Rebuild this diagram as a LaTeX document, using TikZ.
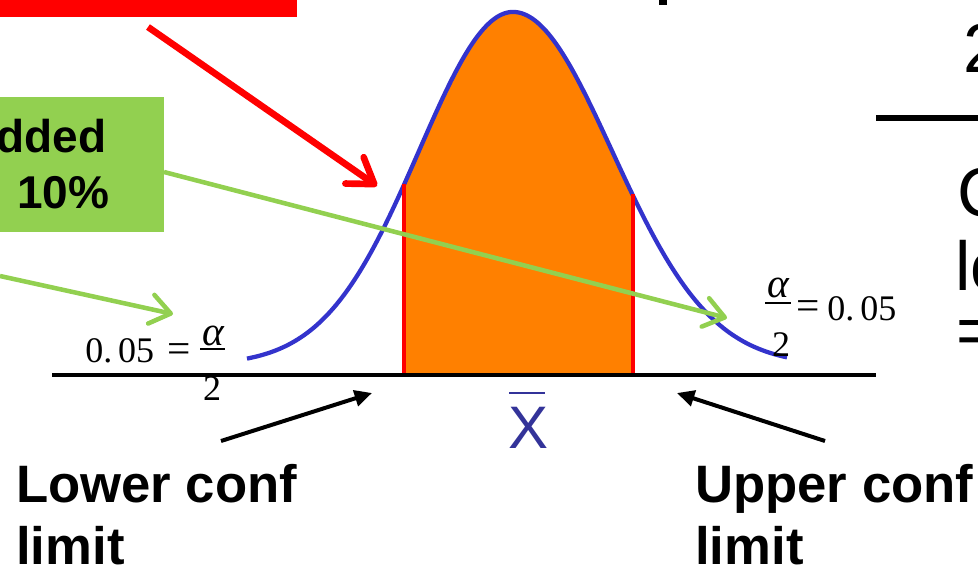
\documentclass[tikz,border=0pt]{standalone}
\usepackage{fontspec}
\setmainfont{Liberation Sans}
\newfontfamily\seriffam{Liberation Serif}
\usetikzlibrary{arrows.meta}
\definecolor{curveblue}{RGB}{51,51,204}
\definecolor{fillorange}{RGB}{255,128,0}
\definecolor{boxgreen}{RGB}{146,208,80}
\definecolor{xblue}{RGB}{51,51,153}
\begin{document}
\begin{tikzpicture}[x=0.75pt,y=-0.75pt,
  boldlbl/.style={inner sep=0pt, anchor=base west, font=\bfseries\fontsize{39.5pt}{47pt}\selectfont},
  boxlbl/.style={inner sep=0pt, anchor=base west, font=\bfseries\fontsize{34.5pt}{40pt}\selectfont},
  sidelbl/.style={inner sep=0pt, anchor=base west, font=\fontsize{52pt}{60pt}\selectfont},
  mathlbl/.style={inner sep=0pt, font=\seriffam\fontsize{27pt}{32pt}\selectfont},
  eqlbl/.style={inner sep=0pt, font=\seriffam\fontsize{31pt}{36pt}\selectfont},
  alphalbl/.style={inner sep=0pt, font=\seriffam\itshape\fontsize{31pt}{36pt}\selectfont},
  fracbar/.style={line width=1.3pt},
  greenarrow/.style={draw=boxgreen, line width=3.4pt, -{Straight Barb[length=15pt,width=22pt,round]}},
  redarrow/.style={draw=red, line width=5pt, -{Straight Barb[length=18pt,width=24pt,round]}},
  blackarrow/.style={draw=black, line width=3pt, -{Triangle[length=13pt,width=12pt]}},
  limitline/.style={draw=red, line width=3.7pt},
  curve/.style={draw=curveblue, line width=3.2pt, line join=round}
]
\useasboundingbox (0,0) rectangle (978,567);
\clip (0,0) rectangle (978,567);

% red banner at the top
\fill[red] (0,0) rectangle (297,17);
% fragment of a character at the top
\fill[black] (659,0) rectangle (667,5);

% orange area between the limits
\fill[fillorange]
  plot[domain=404:513, samples=60] (\x,{365-353*exp(-0.5*((\x-513)/94)^2)})
  -- plot[domain=513:633, samples=60] (\x,{365-353*exp(-0.5*((\x-513)/99)^2)})
  -- (633,375) -- (404,375) -- cycle;

% normal curve
\draw[curve]
  plot[domain=247:513, samples=100] (\x,{365-353*exp(-0.5*((\x-513)/94)^2)})
  -- plot[domain=513:787, samples=100] (\x,{365-353*exp(-0.5*((\x-513)/99)^2)});

% confidence limits
\draw[limitline] (404,376) -- (404,184);
\draw[limitline] (633,376) -- (633,194);

% axis
\draw[black, line width=3.6pt] (52,375) -- (876,375);

% green box
\node[fill=boxgreen, anchor=north west, inner sep=0pt, minimum width=123pt, minimum height=101pt] (gbox) at (0,97) {};
\node[boxlbl] (gtext1) at (-4,152) {dded};
\node[boxlbl] (gtext2) at (17,208) {10\%};

% coordinates of arrow ends
\coordinate (gstart) at (164,172);
\coordinate (gtip) at (727,318);
\coordinate (lgstart) at (0,276);
\coordinate (lgtip) at (173,314);
\coordinate (rstart) at (148,27);
\coordinate (rtip) at (377,186);
\coordinate (lbstart) at (221,441);
\coordinate (lbtip) at (372,393);
\coordinate (ubstart) at (825,441);
\coordinate (ubtip) at (677,393);

\draw[redarrow] (rstart) -- (rtip);
\draw[greenarrow] (gstart) -- (gtip);
\draw[greenarrow] (lgstart) -- (lgtip);
\draw[blackarrow] (lbstart) -- (lbtip);
\draw[blackarrow] (ubstart) -- (ubtip);

% left alpha/2 label
\node[mathlbl, anchor=base west] (l005) at (85,362) {0.\,05};
\node[eqlbl] (leq) at (179,353) {=};
\node[alphalbl] (lalpha) at (213,336) {α};
\draw[fracbar] (200,349) -- (225,349);
\node[mathlbl] (ltwo) at (212,389) {2};

% right alpha/2 label
\node[alphalbl] (ralpha) at (778,288) {α};
\draw[fracbar] (765,303) -- (791,303);
\node[mathlbl] (rtwo) at (781,345) {2};
\node[eqlbl] (req) at (808,310) {=};
\node[mathlbl, anchor=base west] (r005) at (827,320) {0.\,05};

% x bar
\node[inner sep=0pt, anchor=base, text=xblue, font=\fontsize{45pt}{50pt}\selectfont] (xbar) at (529,448) {X};
\draw[xblue, line width=2.2pt] (509,393) -- (545,393);

% limit labels
\node[boldlbl] (lower1) at (16,502) {Lower conf};
\node[boldlbl] (lower2) at (16,564) {limit};
\node[boldlbl] (upper1) at (695,502) {Upper conf};
\node[boldlbl] (upper2) at (695,564) {limit};

% right side, cut off
\draw[black, line width=3.8pt] (876,118) -- (978,118);
\node[sidelbl] (s2) at (963,73) {2};
\node[sidelbl] (sC) at (957,216) {C};
\node[sidelbl] (slo) at (955,290) {lo};
\node[sidelbl] (seq) at (956,354) {=};
\end{tikzpicture}
\end{document}
